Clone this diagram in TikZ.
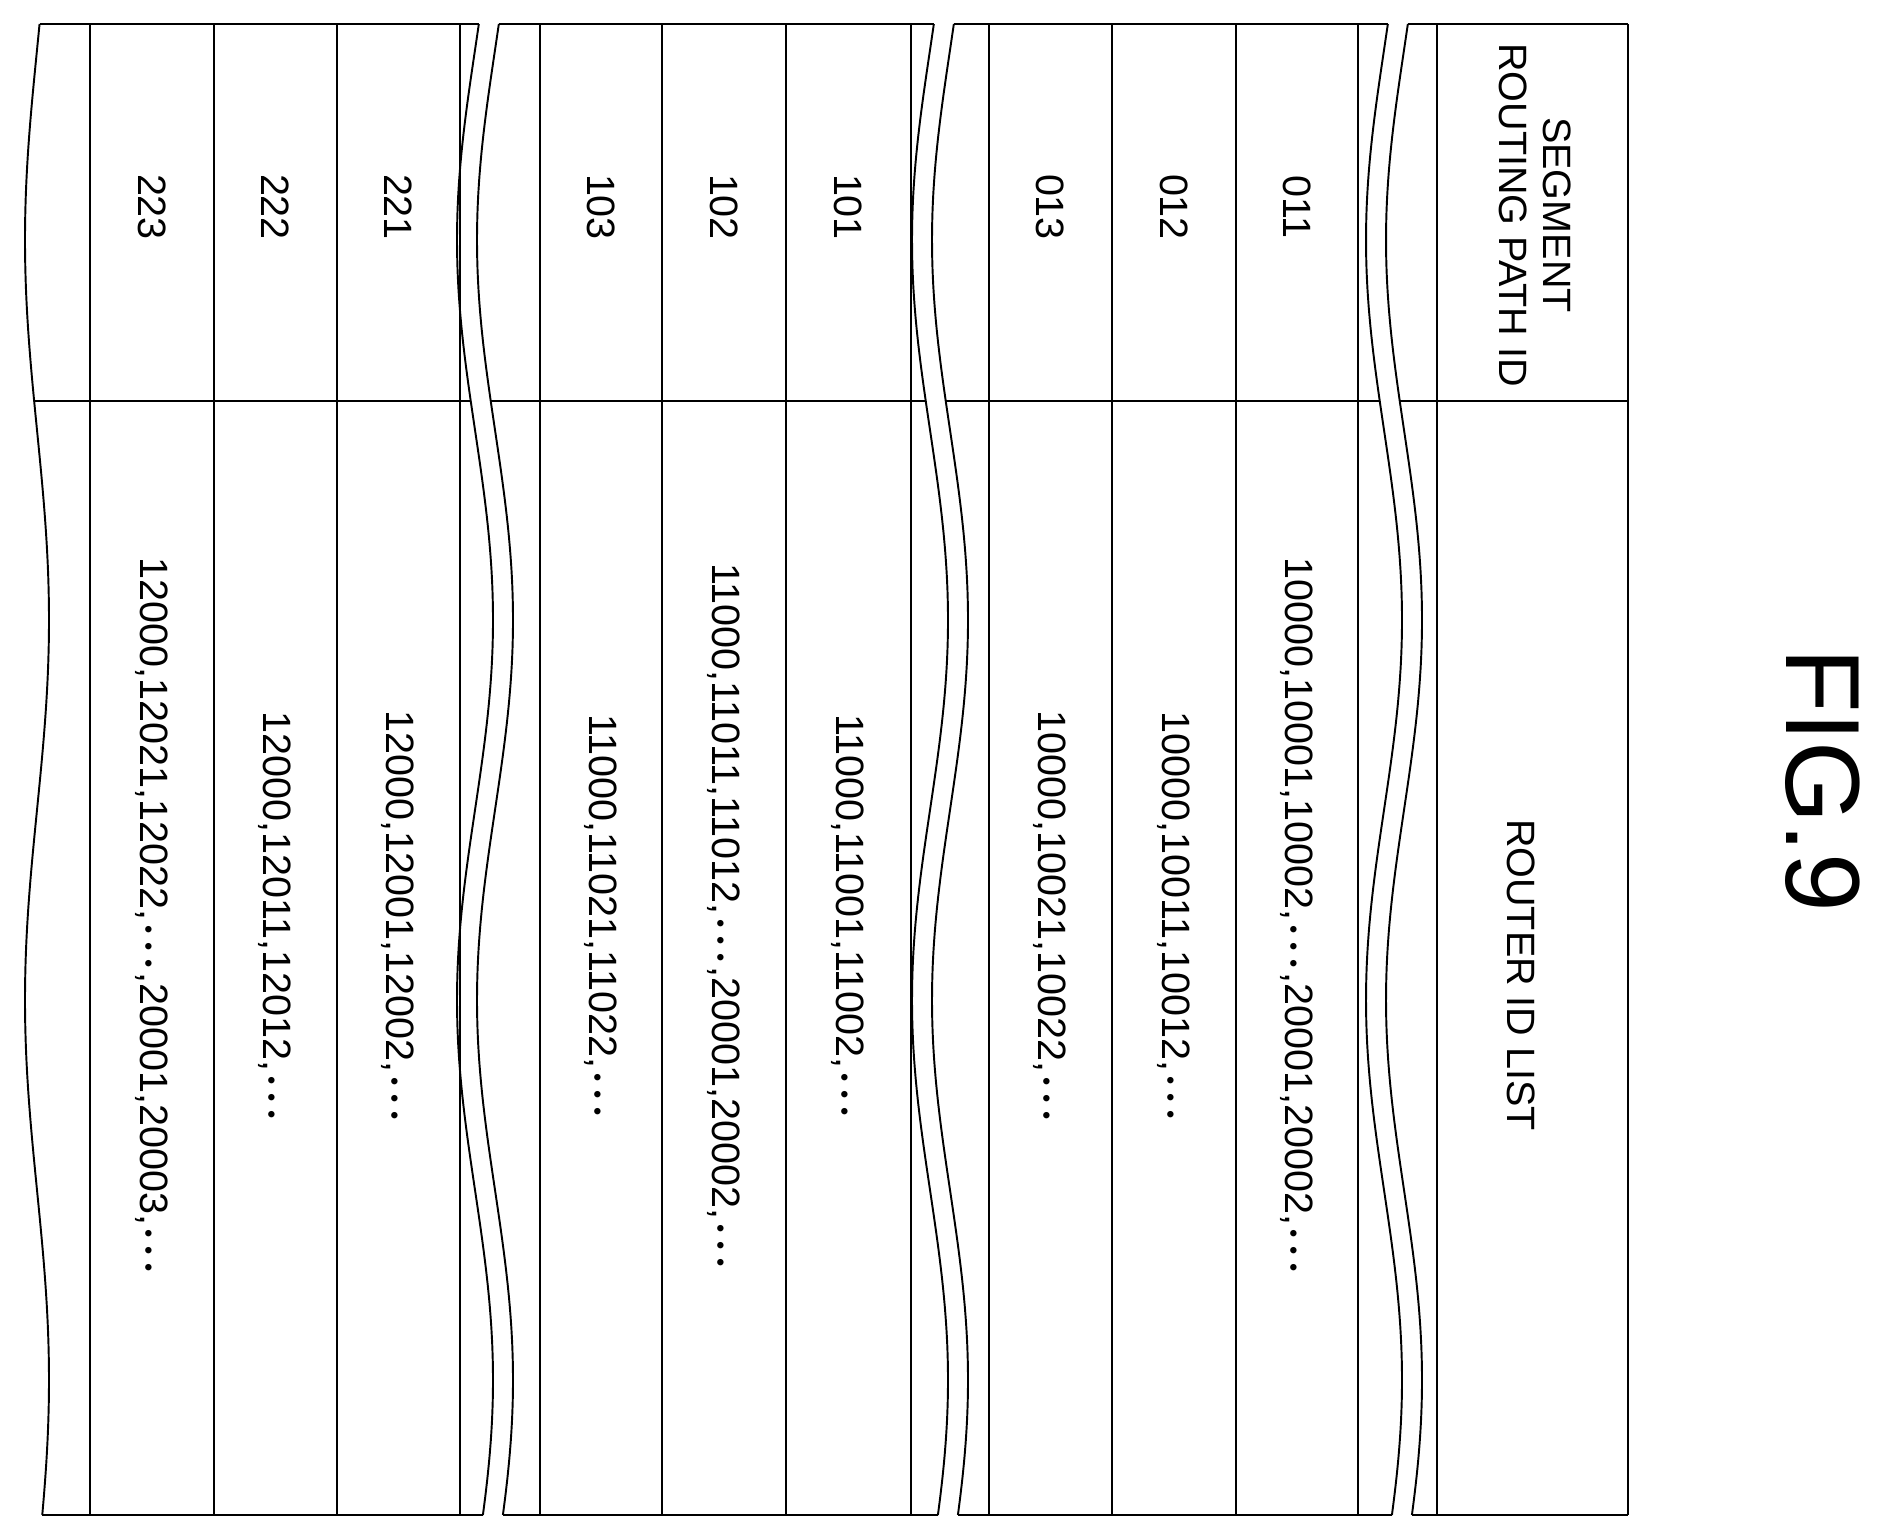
\documentclass[tikz,border=0pt]{standalone}
\usepackage{fontspec}
\setmainfont{Liberation Sans}
\usetikzlibrary{positioning}
\newcommand\wavyline[2]{% centre x, amplitude
\draw[wave line] plot[domain=24:1515, samples=80, smooth] ({#1+#2*sin((\x-430)/760*360)},\x);
}
\newcommand\wx[3]{({#1+#2*sin((#3-430)/760*360)},#3)}
\newcommand\ellip{\hspace{0.12em}\scalebox{0.6}{•}\hspace{0.22em}\scalebox{0.6}{•}\hspace{0.22em}\scalebox{0.6}{•}\hspace{0.12em}}

\begin{document}
\begin{tikzpicture}[x=0.02cm,y=-0.02cm,
  every node/.style={inner sep=0pt},
  cell text/.style={rotate=-90, font=\fontsize{22.5}{25}\selectfont},
  table line/.style={line width=1.6pt},
  wave line/.style={line width=1.1pt}]
	%% page
	\useasboundingbox (0,0) rectangle (1878,1540);

	\def\Amp{18} % break amplitude
	\def\Gap{20} % gap between the two break lines

	% straight row lines
	\foreach \xl in {90,214,337,460,540,662,786,911,989,1112,1236,1358,1437,1628}
	  \draw[table line] (\xl,24) -- (\xl,1515);

	% horizontal lines, broken at the waves
	\foreach \yl in {24,401,1515}{
	  \draw[table line] \wx{37}{12}{\yl} -- \wx{475}{\Amp}{\yl};
	  \draw[table line] \wx{495}{\Amp}{\yl} -- \wx{930}{\Amp}{\yl};
	  \draw[table line] \wx{950}{\Amp}{\yl} -- \wx{1384}{\Amp}{\yl};
	  \draw[table line] \wx{1404}{\Amp}{\yl} -- (1628,\yl);
	}

	% breaks
	\wavyline{37}{12}
	\foreach \c in {475,930,1384}{
	  \wavyline{\c}{\Amp}
	  \wavyline{\c+\Gap}{\Amp}
	}

	% header
	\node[cell text, align=center] (hdrid) at (1535,215) {SEGMENT\\ROUTING PATH ID};
	\node[cell text] (hdrlist) at (1521,975) {ROUTER ID LIST};

	% rows
	\foreach \xc/\id/\lst in {
	  1297/011/{10000,10001,10002,\ellip,20001,20002,\ellip},
	  1174/012/{10000,10011,10012,\ellip},
	  1050/013/{10000,10021,10022,\ellip},
	  848/101/{11000,11001,11002,\ellip},
	  724/102/{11000,11011,11012,\ellip,20001,20002,\ellip},
	  601/103/{11000,11021,11022,\ellip},
	  398/221/{12000,12001,12002,\ellip},
	  275/222/{12000,12011,12012,\ellip},
	  152/223/{12000,12021,12022,\ellip,20001,20003,\ellip}}{
	  \node[cell text] (id\id) at (\xc,207) {\id};
	  \node[cell text] (lst\id) at (\xc,915) {\lst};
	}

	\node[rotate=-90, font=\fontsize{60}{60}\selectfont] (fig) at (1823,780) {FIG.9};
\end{tikzpicture}
\end{document}
